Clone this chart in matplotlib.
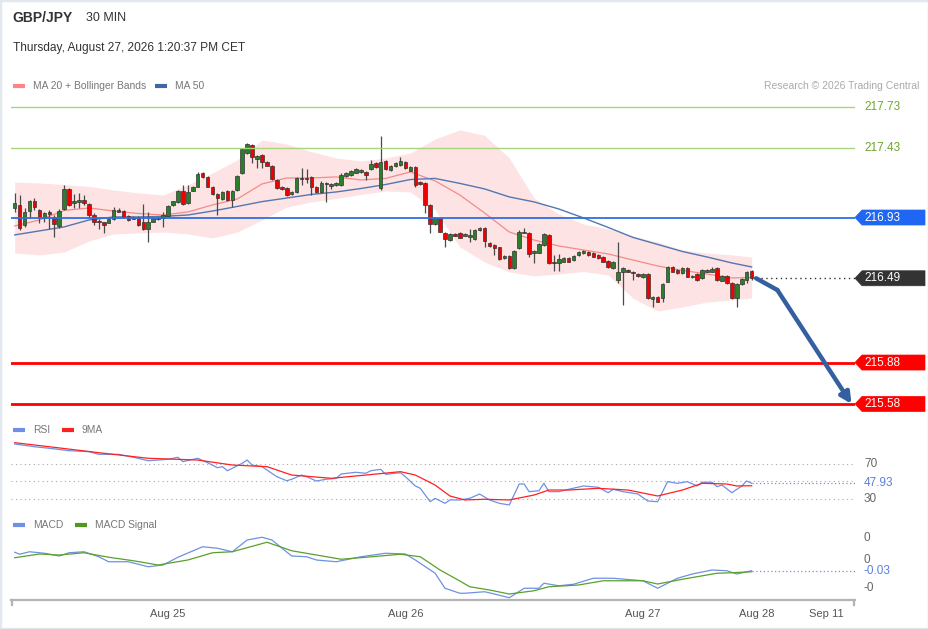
import numpy as np
import matplotlib.pyplot as plt
from matplotlib.patches import Polygon, Rectangle

plt.rcParams['font.family'] = ['Liberation Sans', 'DejaVu Sans']

# ---- data (GBP/JPY, 30 min candles) ----
opens = [
    216.997, 217.021, 216.876, 216.980, 217.052, 216.985, 216.925, 216.972, 216.936, 216.869,
    216.990, 217.135, 217.033, 217.043, 217.057, 217.026, 216.948, 216.907, 216.896, 216.893,
    216.917, 216.985, 216.980, 216.943, 216.922, 216.932, 216.896, 216.845, 216.900, 216.929,
    216.929, 216.943, 217.019, 217.043, 217.124, 217.033, 217.124, 217.153, 217.250, 217.221,
    217.153, 217.100, 217.062, 217.120, 217.057, 217.129, 217.250, 217.395, 217.455, 217.352,
    217.383, 217.330, 217.305, 217.202, 217.153, 217.142, 217.100, 217.113, 217.216, 217.214,
    217.221, 217.149, 217.117, 217.182, 217.158, 217.166, 217.166, 217.231, 217.238, 217.255,
    217.260, 217.262, 217.279, 217.327, 217.142, 217.342, 217.274, 217.303, 217.310, 217.334,
    217.269, 217.294, 217.190, 217.182, 217.021, 216.883, 216.925, 216.820, 216.767, 216.809,
    216.816, 216.799, 216.786, 216.775, 216.840, 216.852, 216.748, 216.731, 216.715, 216.635,
    216.652, 216.563, 216.707, 216.820, 216.816, 216.671, 216.676, 216.731, 216.804, 216.610,
    216.603, 216.610, 216.635, 216.622, 216.659, 216.671, 216.683, 216.671, 216.659, 216.642,
    216.618, 216.563, 216.478, 216.534, 216.550, 216.538, 216.521, 216.497, 216.521, 216.338,
    216.357, 216.345, 216.466, 216.574, 216.550, 216.526, 216.563, 216.497, 216.521, 216.490,
    216.538, 216.538, 216.563, 216.473, 216.507, 216.458, 216.345, 216.449, 216.478, 216.545,
]
closes = [
    217.033, 216.852, 216.972, 217.052, 217.004, 216.936, 216.965, 216.956, 216.883, 216.980,
    217.135, 217.021, 217.050, 217.057, 217.033, 216.948, 216.900, 216.896, 216.876, 216.917,
    216.985, 216.972, 216.936, 216.912, 216.932, 216.876, 216.845, 216.900, 216.925, 216.917,
    216.948, 217.016, 217.048, 217.124, 217.028, 217.117, 217.153, 217.243, 217.221, 217.153,
    217.100, 217.069, 217.117, 217.057, 217.124, 217.231, 217.424, 217.462, 217.366, 217.376,
    217.334, 217.305, 217.209, 217.146, 217.137, 217.093, 217.115, 217.219, 217.207, 217.207,
    217.149, 217.117, 217.178, 217.173, 217.173, 217.182, 217.238, 217.255, 217.269, 217.279,
    217.274, 217.238, 217.316, 217.298, 217.334, 217.279, 217.303, 217.323, 217.342, 217.287,
    217.294, 217.166, 217.173, 217.021, 216.883, 216.925, 216.827, 216.772, 216.811, 216.799,
    216.784, 216.809, 216.804, 216.840, 216.857, 216.762, 216.724, 216.707, 216.628, 216.652,
    216.565, 216.690, 216.827, 216.827, 216.666, 216.688, 216.738, 216.811, 216.599, 216.599,
    216.628, 216.635, 216.610, 216.652, 216.683, 216.690, 216.659, 216.647, 216.635, 216.610,
    216.570, 216.610, 216.534, 216.563, 216.538, 216.529, 216.507, 216.521, 216.345, 216.357,
    216.321, 216.449, 216.574, 216.538, 216.526, 216.563, 216.502, 216.507, 216.478, 216.550,
    216.550, 216.555, 216.478, 216.507, 216.454, 216.345, 216.449, 216.483, 216.538, 216.490,
]
highs = [
    217.108, 217.093, 216.997, 217.057, 217.071, 216.990, 216.972, 216.985, 216.948, 216.990,
    217.166, 217.142, 217.100, 217.106, 217.093, 217.033, 216.965, 216.917, 216.900, 216.919,
    217.009, 217.001, 216.985, 216.948, 216.938, 216.941, 217.028, 216.972, 216.927, 216.934,
    216.972, 217.021, 217.053, 217.129, 217.166, 217.166, 217.158, 217.262, 217.256, 217.227,
    217.158, 217.106, 217.122, 217.126, 217.129, 217.238, 217.430, 217.472, 217.459, 217.383,
    217.390, 217.336, 217.310, 217.209, 217.158, 217.148, 217.122, 217.224, 217.292, 217.279,
    217.227, 217.155, 217.197, 217.187, 217.180, 217.187, 217.255, 217.260, 217.274, 217.285,
    217.279, 217.267, 217.347, 217.332, 217.520, 217.347, 217.310, 217.329, 217.366, 217.339,
    217.300, 217.300, 217.195, 217.187, 217.026, 216.930, 216.930, 216.825, 216.816, 216.815,
    216.822, 216.815, 216.847, 216.845, 216.862, 216.858, 216.753, 216.736, 216.720, 216.657,
    216.657, 216.695, 216.840, 216.854, 216.822, 216.695, 216.744, 216.816, 216.809, 216.659,
    216.666, 216.641, 216.641, 216.657, 216.688, 216.695, 216.688, 216.677, 216.664, 216.648,
    216.622, 216.615, 216.755, 216.568, 216.555, 216.543, 216.526, 216.526, 216.526, 216.362,
    216.362, 216.454, 216.579, 216.579, 216.555, 216.568, 216.568, 216.512, 216.526, 216.555,
    216.555, 216.570, 216.568, 216.512, 216.512, 216.463, 216.454, 216.489, 216.543, 216.550,
]
lows = [
    216.970, 216.840, 216.864, 216.927, 216.985, 216.888, 216.900, 216.845, 216.791, 216.852,
    216.985, 217.014, 216.997, 216.997, 217.021, 216.936, 216.876, 216.845, 216.818, 216.887,
    216.912, 216.967, 216.930, 216.905, 216.916, 216.869, 216.840, 216.755, 216.894, 216.912,
    216.864, 216.938, 217.014, 217.035, 217.021, 217.028, 217.119, 217.148, 217.216, 217.148,
    217.093, 216.948, 217.057, 217.050, 217.004, 217.122, 217.245, 217.390, 217.325, 217.289,
    217.291, 217.300, 217.202, 217.140, 217.129, 217.086, 217.093, 217.108, 217.166, 217.180,
    217.093, 217.111, 217.111, 217.045, 217.137, 217.161, 217.161, 217.226, 217.233, 217.249,
    217.255, 217.202, 217.274, 217.292, 217.129, 217.274, 217.269, 217.298, 217.305, 217.281,
    217.265, 217.149, 217.166, 216.965, 216.816, 216.878, 216.822, 216.715, 216.762, 216.793,
    216.778, 216.793, 216.755, 216.770, 216.835, 216.719, 216.717, 216.659, 216.623, 216.630,
    216.560, 216.557, 216.702, 216.815, 216.644, 216.603, 216.670, 216.726, 216.594, 216.545,
    216.545, 216.605, 216.605, 216.618, 216.654, 216.666, 216.654, 216.641, 216.630, 216.605,
    216.565, 216.557, 216.454, 216.297, 216.532, 216.478, 216.502, 216.492, 216.340, 216.282,
    216.315, 216.319, 216.460, 216.532, 216.521, 216.521, 216.496, 216.492, 216.471, 216.485,
    216.532, 216.534, 216.471, 216.467, 216.449, 216.340, 216.285, 216.442, 216.456, 216.478,
]

# MA 20, Bollinger bands and MA 50, read every 5 candles
ma_idx = list(range(0, 150, 5)) + [149]
ma20 = [216.869, 216.912, 216.981, 216.999, 216.977, 216.959, 216.948, 216.970, 217.021, 217.064,
        217.173, 217.216, 217.216, 217.224, 217.202, 217.213, 217.260, 217.195, 217.093, 216.963,
        216.825, 216.767, 216.724, 216.695, 216.666, 216.622, 216.579, 216.547, 216.521, 216.492,
        216.496]
bb_upper = [217.187, 217.180, 217.169, 217.155, 217.129, 217.108, 217.093, 217.166, 217.252, 217.347,
            217.491, 217.462, 217.407, 217.361, 217.339, 217.361, 217.397, 217.499, 217.564, 217.524,
            217.361, 217.071, 216.956, 216.883, 216.847, 216.796, 216.753, 216.695, 216.673, 216.659,
            216.644]
bb_lower = [216.673, 216.659, 216.680, 216.760, 216.811, 216.818, 216.825, 216.811, 216.782, 216.825,
            216.912, 217.006, 217.043, 217.068, 217.097, 217.122, 217.115, 216.985, 216.717, 216.608,
            216.536, 216.507, 216.521, 216.539, 216.514, 216.347, 216.253, 216.282, 216.318, 216.333,
            216.347]
ma50 = [216.804, 216.833, 216.862, 216.912, 216.934, 216.934, 216.938, 216.948, 216.977, 217.010,
        217.045, 217.071, 217.097, 217.115, 217.140, 217.169, 217.205, 217.213, 217.177, 217.137,
        217.079, 217.043, 216.992, 216.927, 216.858, 216.786, 216.735, 216.684, 216.644, 216.601,
        216.572]

# key levels
resistances = [217.73, 217.43]
pivot = 216.93
supports = [215.88, 215.58]
last_price = 216.49
target = 215.58

# RSI and its 9 period MA
rsi_idx = [0, 4, 7, 11, 15, 17, 21, 24, 27, 31, 33, 34, 37, 39, 41, 42, 43, 46, 47, 48,
           50, 53, 55, 56, 58, 59, 61, 63, 65, 66, 69, 71, 72, 74, 75, 78, 79, 81, 82, 84,
           85, 87, 88, 90, 92, 94, 96, 98, 100, 102, 103, 104, 106, 107, 108, 110, 112, 115, 118, 120,
           121, 123, 126, 128, 130, 132, 134, 136, 138, 139, 141, 142, 143, 145, 147, 148, 149]
rsi_vals = [93.5, 90.3, 88.5, 85.7, 84.6, 81.5, 81.5, 78.1, 74.1, 75.7, 78.1, 73.0, 76.9, 71.8, 66.0, 67.2, 62.5, 71.1, 74.9, 69.1,
            67.2, 55.6, 50.9, 52.6, 57.5, 55.6, 50.6, 52.6, 53.7, 58.7, 60.7, 59.5, 62.5, 64.1, 58.3, 60.2, 55.6, 44.8, 42.1, 26.6,
            30.5, 24.7, 28.6, 28.6, 30.5, 35.5, 28.6, 24.7, 22.8, 47.1, 47.1, 38.2, 39.3, 47.9, 38.2, 38.2, 41.0, 44.8, 43.3, 37.0,
            41.0, 38.2, 35.5, 27.4, 26.6, 49.8, 47.9, 49.8, 44.8, 49.1, 49.1, 44.0, 45.9, 37.0, 44.8, 50.6, 47.93]
ma9_idx = [0, 7, 17, 27, 37, 44, 51, 56, 64, 71, 78, 81, 85, 88, 91, 95, 100, 105, 108, 112,
           118, 124, 130, 135, 139, 144, 146, 149]
ma9_vals = [95.0, 90.3, 83.4, 76.9, 74.9, 69.1, 67.2, 57.5, 53.7, 57.5, 61.4, 57.5, 45.9, 33.2, 28.6, 29.4, 28.6, 34.3, 40.1, 40.1,
            42.1, 40.1, 33.2, 40.1, 47.9, 47.1, 44.8, 45.1]
rsi_levels = [70, 50, 30]

# MACD and signal
macd_idx = [0, 1, 3, 6, 9, 11, 14, 17, 19, 23, 27, 30, 33, 38, 41, 44, 47, 50, 52, 56,
            59, 61, 65, 70, 75, 79, 81, 85, 87, 90, 91, 95, 97, 100, 103, 106, 107, 110, 113, 117,
            121, 127, 130, 134, 137, 141, 144, 146, 149]
macd_vals = [0.043, 0.035, 0.045, 0.039, 0.028, 0.041, 0.045, 0.025, 0.005, 0.005, -0.015, -0.008, 0.023, 0.065, 0.059, 0.045, 0.092, 0.103, 0.092, 0.028,
             0.025, 0.012, 0.005, 0.025, 0.039, 0.036, 0.012, -0.041, -0.101, -0.121, -0.121, -0.115, -0.124, -0.139, -0.101, -0.101, -0.081, -0.091, -0.085, -0.061,
             -0.061, -0.071, -0.101, -0.061, -0.044, -0.028, -0.031, -0.044, -0.031]
signal_idx = [0, 5, 9, 14, 19, 24, 29, 35, 40, 44, 51, 56, 61, 66, 71, 78, 82, 86, 90, 92,
              96, 100, 105, 108, 114, 119, 127, 130, 135, 142, 145, 149]
signal_vals = [0.021, 0.036, 0.032, 0.041, 0.023, 0.009, -0.008, 0.012, 0.041, 0.045, 0.083, 0.049, 0.032, 0.015, 0.023, 0.035, 0.025, -0.028, -0.072, -0.095,
               -0.108, -0.124, -0.111, -0.095, -0.088, -0.071, -0.071, -0.084, -0.065, -0.041, -0.039, -0.035]
macd_ticks = [0.1, 0.0, -0.1]
macd_tick_labels = ['0', '0', '-0']

day_labels = ['Aug 25', 'Aug 26', 'Aug 27']
first_day_start = 31      # first candle of Aug 25
proj_labels = ['Aug 28', 'Sep 11']
proj_offsets = [0, 14]    # projection zone right of last candle

# ---- figure ----
W, H = 929, 629
fig = plt.figure(figsize=(W / 100, H / 100), dpi=100)
fig.patch.set_facecolor('white')


def add_ax(x0, y0, x1, y1):
    # box given in pixels, measured from the top left
    a = fig.add_axes([x0 / W, 1 - y1 / H, (x1 - x0) / W, (y1 - y0) / H])
    a.set_facecolor('none')
    for s in a.spines.values():
        s.set_visible(False)
    a.set_xticks([])
    a.set_yticks([])
    return a


ax = add_ax(11, 95, 855, 415)
ax_rsi = add_ax(11, 425, 855, 510)
ax_macd = add_ax(11, 515, 855, 600)
ov = fig.add_axes([0, 0, 1, 1], zorder=10)
ov.set_xlim(0, W)
ov.set_ylim(H, 0)
ov.axis('off')

n = len(closes)
xmin, xmax = -0.75, 169.9
for a in (ax, ax_rsi, ax_macd):
    a.set_xlim(xmin, xmax)
ax.set_ylim(215.500, 217.817)
ax_rsi.set_ylim(16.96, 115.5)
ax_macd.set_ylim(-0.148, 0.192)


def px(a, v):
    return H - a.transData.transform((0, v))[1]


# bollinger band + moving averages
ax.fill_between(ma_idx, bb_lower, bb_upper, color='#fde3e3', lw=0, zorder=1)
ax.plot(ma_idx, ma20, color='#f58a8a', lw=0.9, zorder=2)
ax.plot(ma_idx, ma50, color='#5377b3', lw=1.0, zorder=2)

# candles
o, c, hi, lo = map(np.array, (opens, closes, highs, lows))
x = np.arange(n)
up = c >= o
ax.vlines(x, np.minimum(lo, np.minimum(o, c)), np.maximum(hi, np.maximum(o, c)),
          color='#4a4a4a', lw=0.9, zorder=3)
ax.bar(x, np.maximum(np.abs(c - o), 0.004), bottom=np.minimum(o, c), width=0.72,
       color=np.where(up, '#2b7f2b', '#f00000'), edgecolor='#333333', linewidth=0.5, zorder=4)

# levels
for r in resistances:
    ax.axhline(r, color='#a9d47d', lw=1, zorder=5)
ax.axhline(pivot, color='#2f6ee0', lw=1.3, zorder=5)
for s in supports:
    ax.axhline(s, color='#ff0000', lw=2, zorder=5)
ax.plot([n - 0.2, xmax], [last_price, last_price], color='#333333', lw=1,
        ls=(0, (1, 2.5)), zorder=5)

# forecast arrow
arrow_x = [n - 0.1, n + 4.2, n + 19.2]
arrow_y = [closes[-1], 216.405, target]
ax.plot(arrow_x[:2], arrow_y[:2], color='#3560a0', lw=3.2, solid_capstyle='round', zorder=6)
ax.annotate('', xy=(arrow_x[2], arrow_y[2]), xytext=(arrow_x[1], arrow_y[1]),
            arrowprops=dict(arrowstyle='-|>', color='#3560a0', lw=3.2,
                            mutation_scale=16, shrinkA=0, shrinkB=0), zorder=6)

# RSI
ax_rsi.plot(rsi_idx, rsi_vals, color='#6f90e6', lw=0.9, zorder=3)
ax_rsi.plot(ma9_idx, ma9_vals, color='#ff2020', lw=0.9, zorder=4)
for lv in rsi_levels:
    ax_rsi.axhline(lv, color='#a8a8a8', lw=0.8, ls=(0, (1, 3)), zorder=1)
ax_rsi.plot([rsi_idx[-1], xmax], [rsi_vals[-1]] * 2, color='#6f90e6', lw=0.9,
            ls=(0, (1, 2)), zorder=2)

# MACD
ax_macd.plot(macd_idx, macd_vals, color='#6f90e6', lw=0.9, zorder=3)
ax_macd.plot(signal_idx, signal_vals, color='#5aa02a', lw=0.9, zorder=4)
ax_macd.plot([macd_idx[-1], xmax], [macd_vals[-1]] * 2, color='#6f90e6', lw=0.9,
             ls=(0, (1, 2)), zorder=2)

# x axis
ticks = [first_day_start + 48 * k for k in range(len(day_labels))] + [n + d for d in proj_offsets]
ax_macd.spines['bottom'].set_visible(True)
ax_macd.spines['bottom'].set_color('#b3b3b3')
ax_macd.spines['bottom'].set_linewidth(1.6)
ax_macd.set_xticks(ticks)
ax_macd.set_xticklabels(day_labels + proj_labels)
ax_macd.tick_params(axis='x', length=0, pad=6.5, labelsize=8, labelcolor='#555555')
ov.plot([11.8, 11.8], [600, 605], color='#b3b3b3', lw=1.6)
ov.plot([854.2, 854.2], [600, 605], color='#b3b3b3', lw=1.6)

# right side labels
for r in resistances:
    ov.text(864, px(ax, r), f'{r:.2f}', color='#6ea62c', fontsize=8.5, va='center')


def tag(y, text, color):
    ov.add_patch(Polygon([(855, y), (862, y - 7.5), (925, y - 7.5), (925, y + 7.5), (862, y + 7.5)],
                         closed=True, fc=color, ec=color, lw=0.5))
    ov.text(864, y, text, color='white', fontsize=8.5, va='center')


tag(px(ax, pivot), f'{pivot:.2f}', '#1f66f2')
tag(px(ax, last_price), f'{last_price:.2f}', '#333333')
for s in supports:
    tag(px(ax, s), f'{s:.2f}', '#ff0000')

for lv in (70, 30):
    ov.text(864, px(ax_rsi, lv), str(lv), color='#666666', fontsize=8.5, va='center')
ov.text(864, px(ax_rsi, rsi_vals[-1]), f'{rsi_vals[-1]:.2f}', color='#5b7fdc', fontsize=8.5, va='center')
# tick "0" at 0.00 sits half hidden behind the last-value label, as in the source
for v, lab in zip(macd_ticks, macd_tick_labels):
    ov.text(864, px(ax_macd, v) - (3 if v == 0 else 0), lab, color='#666666', fontsize=8.5, va='center')
ov.text(864, px(ax_macd, macd_vals[-1]), f'{macd_vals[-1]:.2f}', color='#5b7fdc', fontsize=8.5,
        va='center', bbox=dict(fc='white', ec='none', pad=0.5))

# header
ov.text(12, 18, 'GBP/JPY', fontsize=10, fontweight='bold', color='#333333', va='center')
ov.text(86, 18, '30 MIN', fontsize=9, color='#333333', va='center')
ov.text(13, 48, 'Thursday, August 27, 2026 1:20:37 PM CET', fontsize=8.6, color='#333333', va='center')
ov.text(919, 86, 'Research \u00a9 2026 Trading Central', fontsize=7.5, color='#aaaaaa',
        va='center', ha='right')


def legend_item(x0, y, color, label):
    ov.plot([x0, x0 + 12], [y, y], color=color, lw=3, solid_capstyle='butt')
    ov.text(x0 + 20, y, label, fontsize=7.4, color='#777777', va='center')


legend_item(13, 86, '#ff8585', 'MA 20 + Bollinger Bands')
legend_item(155, 86, '#3f67a6', 'MA 50')
legend_item(13, 430, '#6f90e6', 'RSI')
legend_item(62, 430, '#ff2020', '9MA')
legend_item(13, 525, '#6f90e6', 'MACD')
legend_item(75, 525, '#4e9a1e', 'MACD Signal')

fig.add_artist(Rectangle((0, 0), 1, 1, transform=fig.transFigure, fill=False,
                         ec='#e3e8ee', lw=2.5))

fig.savefig('out.png', dpi=100)
